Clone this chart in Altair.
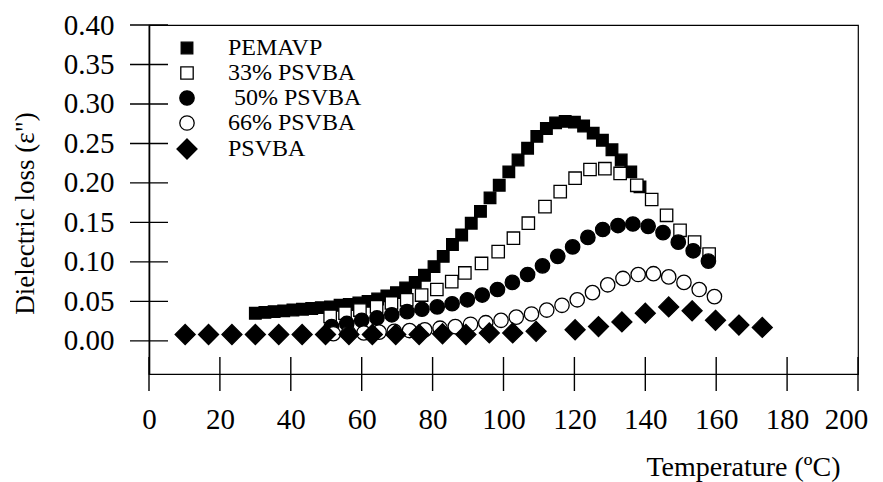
import altair as alt
import pandas as pd

# Series names, in drawing order (later series are drawn on top).
# The 50% label keeps a small indent (zero-width char keeps the no-break space from being trimmed).
SERIES = ["PEMAVP", "33% PSVBA", "\u200b\u00a050% PSVBA", "66% PSVBA", "PSVBA"]

temp_pemavp = [30.0, 32.7, 35.3, 38.0, 40.6, 43.3, 45.9, 48.6, 51.2, 53.9,
               56.5, 59.2, 61.8, 64.5, 67.1, 69.8, 72.4, 75.1, 77.7, 80.4,
               83.0, 85.6, 88.2, 90.9, 93.5, 96.2, 98.8, 101.5, 104.1, 106.8,
               109.4, 112.1, 114.7, 117.4, 120.0, 122.6, 125.3, 127.9, 130.6, 133.2,
               135.9, 138.5]
loss_pemavp = [0.035, 0.036, 0.037, 0.038, 0.039, 0.040, 0.041, 0.042, 0.043, 0.045,
               0.046, 0.048, 0.050, 0.053, 0.057, 0.061, 0.067, 0.074, 0.083, 0.094,
               0.107, 0.122, 0.134, 0.149, 0.164, 0.181, 0.197, 0.214, 0.229, 0.244,
               0.259, 0.269, 0.276, 0.278, 0.277, 0.272, 0.263, 0.254, 0.242, 0.229,
               0.214, 0.195]

temp_33 = [51.1, 55.3, 59.5, 64.2, 68.4, 72.7, 76.9, 81.2, 85.4, 89.1,
           93.8, 98.5, 102.8, 107.0, 111.7, 116.0, 120.2, 124.4, 128.6, 132.9,
           137.6, 141.8, 146.0, 149.8, 153.9, 158.0]
loss_33 = [0.031, 0.035, 0.039, 0.043, 0.048, 0.052, 0.058, 0.065, 0.075, 0.086,
           0.098, 0.113, 0.130, 0.149, 0.170, 0.189, 0.206, 0.217, 0.218, 0.212,
           0.197, 0.179, 0.159, 0.140, 0.125, 0.110]

temp_50 = [51.5, 55.8, 60.0, 64.3, 68.5, 72.8, 77.0, 81.3, 85.5, 89.8,
           94.0, 98.3, 102.5, 106.8, 111.0, 115.3, 119.5, 123.8, 128.0, 132.3,
           136.5, 140.8, 145.0, 149.3, 153.5, 157.8]
loss_50 = [0.018, 0.022, 0.026, 0.029, 0.033, 0.037, 0.040, 0.043, 0.047, 0.052,
           0.058, 0.065, 0.074, 0.084, 0.095, 0.107, 0.119, 0.131, 0.141, 0.146,
           0.148, 0.145, 0.137, 0.125, 0.114, 0.101]

temp_66 = [52.0, 56.3, 60.6, 64.9, 69.2, 73.5, 77.8, 82.1, 86.4, 90.7,
           95.0, 99.3, 103.6, 107.9, 112.2, 116.5, 120.8, 125.1, 129.4, 133.7,
           138.0, 142.3, 146.6, 150.9, 155.2, 159.5]
loss_66 = [0.009, 0.010, 0.010, 0.011, 0.012, 0.013, 0.014, 0.016, 0.018, 0.021,
           0.023, 0.026, 0.030, 0.034, 0.039, 0.045, 0.052, 0.061, 0.071, 0.079,
           0.084, 0.085, 0.081, 0.074, 0.065, 0.056]

temp_psvba = [10.2, 16.8, 23.4, 30.0, 36.6, 43.2, 49.8, 56.4, 63.0, 69.6,
              76.2, 82.8, 89.4, 96.0, 102.6, 109.2, 120.2, 126.8, 133.4, 140.0,
              146.6, 153.2, 159.8, 166.4, 173.0]
loss_psvba = [0.008, 0.008, 0.008, 0.008, 0.008, 0.008, 0.008, 0.008, 0.008, 0.008,
              0.008, 0.009, 0.008, 0.010, 0.010, 0.012, 0.014, 0.018, 0.024, 0.035,
              0.043, 0.038, 0.026, 0.020, 0.017]

x_ticks = [0, 20, 40, 60, 80, 100, 120, 140, 160, 180, 200]
y_ticks = [0.00, 0.05, 0.10, 0.15, 0.20, 0.25, 0.30, 0.35, 0.40]

temps = [temp_pemavp, temp_33, temp_50, temp_66, temp_psvba]
losses = [loss_pemavp, loss_33, loss_50, loss_66, loss_psvba]
data = pd.concat(
    [pd.DataFrame({"series": s, "temp": t, "loss": v}) for s, t, v in zip(SERIES, temps, losses)],
    ignore_index=True,
)

FONT = "Liberation Serif"
Y_BOTTOM = -0.042  # level where the temperature axis crosses

x_scale = alt.Scale(domain=[0, 200], nice=False, zero=False)
y_scale = alt.Scale(domain=[Y_BOTTOM, 0.40], nice=False, zero=False)

# marker outlines, unit = half of sqrt(size)
sq_small = "M-0.58,-0.58H0.58V0.58H-0.58Z"
sq_open = "M-0.62,-0.62H0.62V0.62H-0.62Z"
circ = "M0.72,0A0.72,0.72,0,1,1,-0.72,0A0.72,0.72,0,1,1,0.72,0Z"
diamond = "M0,-1L1,0L0,1L-1,0Z"
marker_paths = [sq_small, sq_open, circ, circ, diamond]
marker_fill = ["black", "white", "black", "white", "black"]
marker_stroke = ["black"] * 5

legend = alt.Legend(
    title=None, orient="none", legendX=26, legendY=11,
    symbolSize=400, symbolStrokeWidth=1.3, symbolOpacity=1,
    labelFont=FONT, labelFontSize=24, labelColor="black", labelOffset=29,
    rowPadding=1, labelLimit=0,
)

x_axis = alt.Axis(
    values=x_ticks, format="d", grid=False, domain=False, ticks=False, tickSize=0,
    labelFontSize=29, labelPadding=31, labelFlush=False, labelOverlap=False,
    labelOffset={"condition": {"test": "datum.value == 200", "value": -12}, "value": 0},
    title="Temperature (ºC)", titleFontSize=28, titleX=691, titleY=79,
    titleAlign="right", titleBaseline="top",
)
y_axis = alt.Axis(
    values=y_ticks, format=".2f", grid=False, domain=True, domainColor="black",
    domainWidth=1.6, ticks=False, tickSize=0,
    labelFontSize=29, labelPadding=35, labelFlush=False, labelOverlap=False,
    title='Dielectric loss (ε")', titleFontSize=27, titleX=-124, titleY=188,
    titleAngle=270, titleAlign="center", titleBaseline="middle",
)

# tick marks that cross the axis lines
x_tick_marks = alt.Chart(pd.DataFrame({"t": x_ticks})).mark_tick(
    orient="vertical", size=34, thickness=1.4, color="black", opacity=1
).encode(
    x=alt.X("t:Q", scale=x_scale, axis=x_axis),
    y=alt.YDatum(Y_BOTTOM, type="quantitative", scale=y_scale, axis=y_axis),
)
y_tick_marks = alt.Chart(pd.DataFrame({"v": y_ticks})).mark_tick(
    orient="horizontal", size=38, thickness=1.4, color="black", opacity=1
).encode(
    y=alt.Y("v:Q", scale=y_scale, axis=y_axis),
    x=alt.XDatum(0, type="quantitative", scale=x_scale, axis=x_axis),
)

points = alt.Chart(data).mark_point(
    filled=True, size=400, strokeWidth=1.3, opacity=1
).encode(
    x=alt.X("temp:Q", scale=x_scale, axis=x_axis),
    y=alt.Y("loss:Q", scale=y_scale, axis=y_axis),
    shape=alt.Shape("series:N", scale=alt.Scale(domain=SERIES, range=marker_paths), legend=legend),
    fill=alt.Fill("series:N", scale=alt.Scale(domain=SERIES, range=marker_fill), legend=legend),
    stroke=alt.Stroke("series:N", scale=alt.Scale(domain=SERIES, range=marker_stroke), legend=legend),
)

chart = alt.layer(points, x_tick_marks, y_tick_marks).properties(
    width=709, height=349,
    padding={"left": 149, "top": 25, "right": 25, "bottom": 108},
    autosize="none",
    background="white",
).configure_view(
    stroke="black", strokeWidth=1.2
).configure_axis(
    labelFont=FONT, titleFont=FONT, labelColor="black", titleColor="black",
    titleFontWeight="normal",
)

chart.save("out.html", embed_options={"renderer": "svg", "actions": False})
